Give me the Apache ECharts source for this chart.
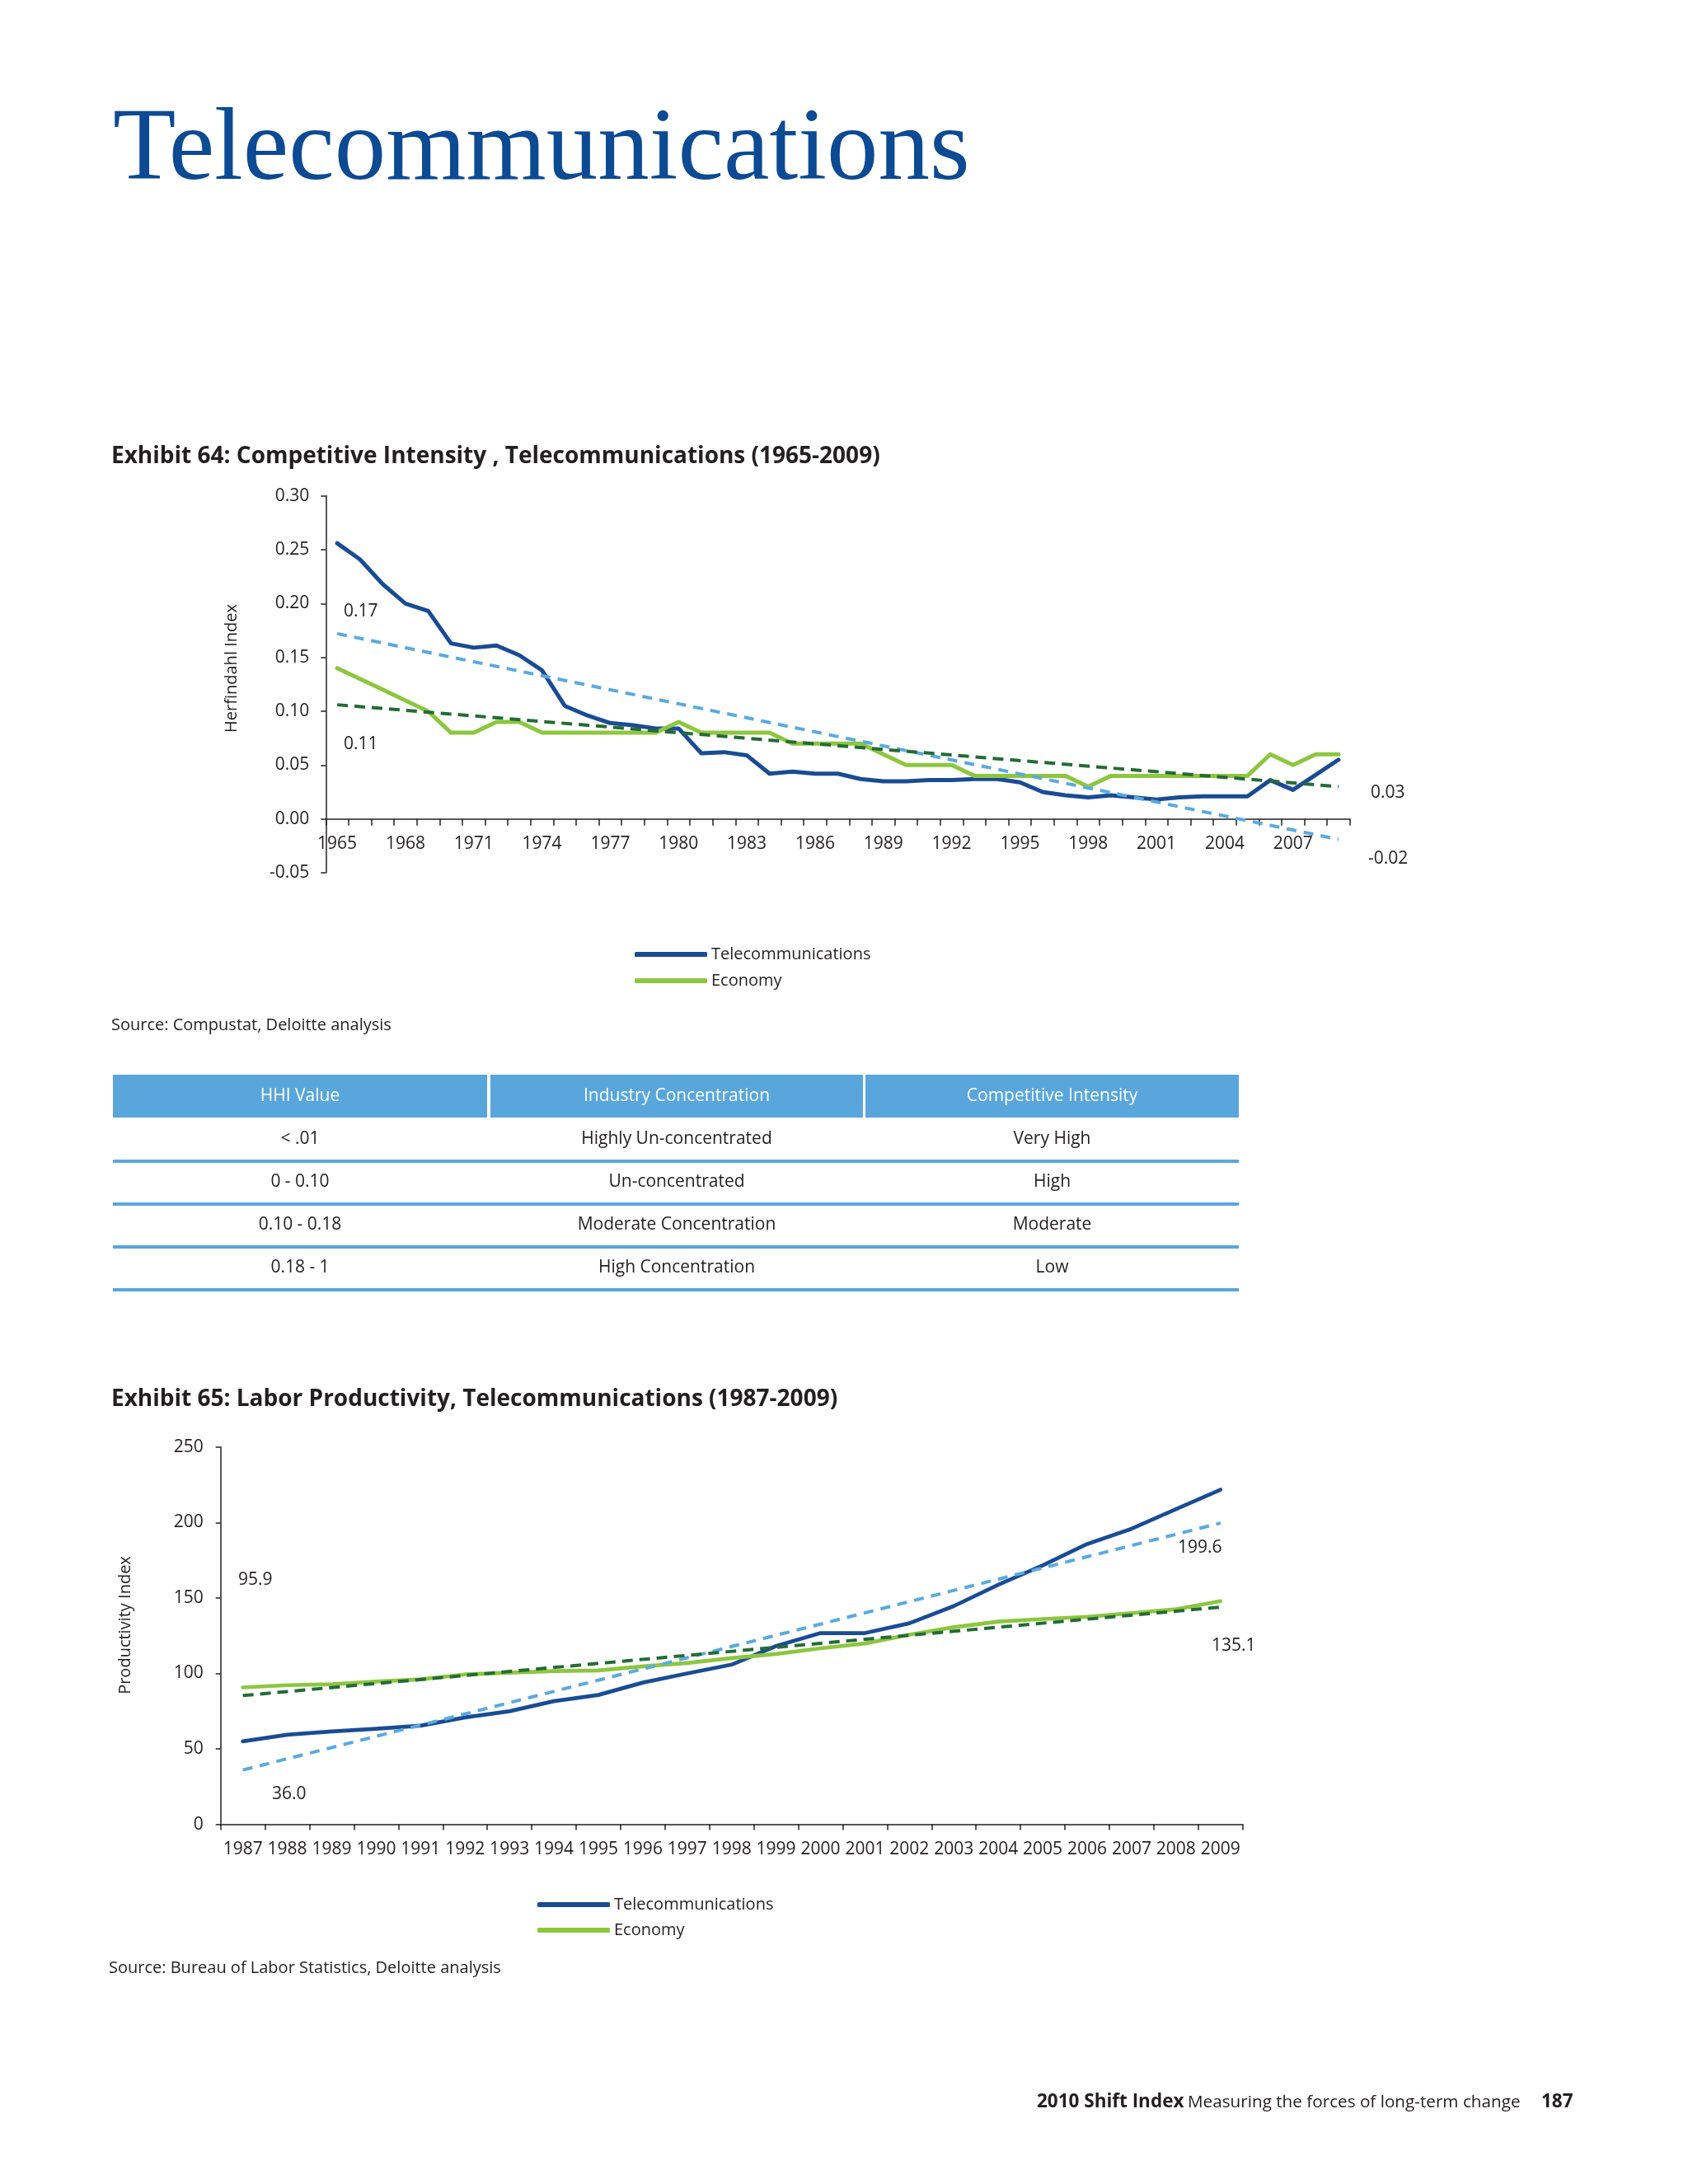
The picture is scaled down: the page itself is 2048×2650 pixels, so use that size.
<!DOCTYPE html>
<html><head><meta charset="utf-8">
<script src="https://cdn.jsdelivr.net/npm/echarts@6/dist/echarts.min.js"></script>
<style>html,body{margin:0;padding:0;background:#fff}#c{width:2048px;height:2650px}</style>
</head><body><div id="c"></div>
<script>
// ---------- DATA ----------
const years64 = ['1965','1966','1967','1968','1969','1970','1971','1972','1973','1974','1975','1976','1977','1978','1979','1980','1981','1982','1983','1984','1985','1986','1987','1988','1989','1990','1991','1992','1993','1994','1995','1996','1997','1998','1999','2000','2001','2002','2003','2004','2005','2006','2007','2008','2009'];
const telecom64 = [0.256,0.241,0.218,0.200,0.193,0.163,0.159,0.161,0.152,0.138,0.105,0.096,0.089,0.087,0.084,0.084,0.061,0.062,0.059,0.042,0.044,0.042,0.042,0.037,0.035,0.035,0.036,0.036,0.037,0.037,0.034,0.025,0.022,0.020,0.022,0.020,0.018,0.020,0.021,0.021,0.021,0.036,0.027,0.041,0.055];
const economy64 = [0.140,0.130,0.120,0.110,0.100,0.080,0.080,0.090,0.090,0.080,0.080,0.080,0.080,0.080,0.080,0.090,0.080,0.080,0.080,0.080,0.070,0.070,0.070,0.070,0.060,0.050,0.050,0.050,0.040,0.040,0.040,0.040,0.040,0.030,0.040,0.040,0.040,0.040,0.040,0.040,0.040,0.060,0.050,0.060,0.060];
const telecomTrend64Ends = [0.172, -0.019];
const economyTrend64Ends = [0.106, 0.030];
const yTicks64 = { min: -0.05, max: 0.30, interval: 0.05 };
const notes64 = ['0.17', '0.11', '0.03', '-0.02'];

const years65 = ['1987','1988','1989','1990','1991','1992','1993','1994','1995','1996','1997','1998','1999','2000','2001','2002','2003','2004','2005','2006','2007','2008','2009'];
const telecom65 = [55.0,59.4,61.5,63.3,65.4,70.8,74.9,81.6,85.7,93.9,100.0,105.8,118.1,126.7,126.7,133.2,144.6,158.7,171.6,185.7,195.8,208.8,221.7];
const economy65 = [90.7,92.2,92.8,94.6,96.1,99.3,100.4,101.5,101.9,104.7,106.9,110.1,112.9,116.6,119.8,125.6,130.6,134.3,136.0,137.5,139.9,142.5,147.9];
const telecomTrend65Ends = [36.0, 199.6];
const economyTrend65Ends = [85.3, 143.9];
const yTicks65 = { min: 0, max: 250, interval: 50 };
const notes65 = ['95.9', '36.0', '199.6', '135.1'];

const seriesNames = ['Telecommunications', 'Economy'];
const tableHeader = ['HHI Value', 'Industry Concentration', 'Competitive Intensity'];
const tableRows = [
  ['< .01', 'Highly Un-concentrated', 'Very High'],
  ['0 - 0.10', 'Un-concentrated', 'High'],
  ['0.10 - 0.18', 'Moderate Concentration', 'Moderate'],
  ['0.18 - 1', 'High Concentration', 'Low']
];

// ---------- STYLE ----------
const FONT = '"Open Sans","Noto Sans","DejaVu Sans",sans-serif';
const SERIF = '"Liberation Serif","DejaVu Serif",serif';
const INK = '#231f20';
const BLUE = '#1a4c94';
const GREEN = '#8dc63f';
const LBLUE = '#5aaade';
const DGREEN = '#246b36';
const TBLUE = '#58a6dc';

function trendArray(n, ends) {
  const a = new Array(n).fill(null);
  a[0] = ends[0]; a[n - 1] = ends[1];
  return a;
}
function txt(x, y, text, size, o) {
  o = o || {};
  return {
    type: 'text', x: x, y: y, silent: true, rotation: o.rotation || 0,
    style: {
      text: text, fontSize: size, fontFamily: o.family || FONT,
      fontWeight: o.weight || 'normal', fill: o.fill || INK,
      align: o.align || 'left', verticalAlign: 'middle',
      textAlign: o.align || 'left', textVerticalAlign: 'middle'
    }
  };
}

const graphics = [];
// Page title
graphics.push(txt(137, 184, 'Telecommunications', 125, { family: SERIF, fill: '#0c4a93' }));
// Exhibit titles
graphics.push(txt(135, 554, 'Exhibit 64: Competitive Intensity , Telecommunications (1965-2009)', 28, { weight: 'bold' }));
graphics.push(txt(135, 1698, 'Exhibit 65: Labor Productivity, Telecommunications (1987-2009)', 28, { weight: 'bold' }));
// Axis names
graphics.push(txt(281, 811, 'Herfindahl Index', 20, { align: 'center', rotation: Math.PI / 2 }));
graphics.push(txt(152, 1972, 'Productivity Index', 20, { align: 'center', rotation: Math.PI / 2 }));
// Annotations chart 1
graphics.push(txt(417, 742, notes64[0], 21));
graphics.push(txt(417, 903, notes64[1], 21));
graphics.push(txt(1663, 962, notes64[2], 21));
graphics.push(txt(1660, 1042, notes64[3], 21));
// Annotations chart 2
graphics.push(txt(289, 1917, notes65[0], 21));
graphics.push(txt(330, 2177, notes65[1], 21));
graphics.push(txt(1429, 1878, notes65[2], 21));
graphics.push(txt(1470, 1997, notes65[3], 21));
// Sources
graphics.push(txt(135, 1244, 'Source: Compustat, Deloitte analysis', 20));
graphics.push(txt(132, 2388, 'Source: Bureau of Labor Statistics, Deloitte analysis', 20));
// Footer
graphics.push(txt(1258, 2551, '2010 Shift Index', 22.5, { weight: 'bold' }));
graphics.push(txt(1441, 2551, 'Measuring the forces of long-term change', 20.7));
graphics.push(txt(1870, 2551, '187', 22.5, { weight: 'bold' }));

// Table
const cols = [[137, 591], [595, 1047], [1050, 1503]];
cols.forEach(function (c, i) {
  graphics.push({ type: 'rect', silent: true, shape: { x: c[0], y: 1304, width: c[1] - c[0], height: 52 }, style: { fill: TBLUE } });
  graphics.push(txt((c[0] + c[1]) / 2, 1330, tableHeader[i], 21, { align: 'center', fill: '#ffffff' }));
});
tableRows.forEach(function (row, r) {
  const cy = 1382 + 52 * r;
  row.forEach(function (cell, i) {
    graphics.push(txt((cols[i][0] + cols[i][1]) / 2, cy, cell, 21, { align: 'center' }));
  });
  graphics.push({ type: 'rect', silent: true, shape: { x: 137, y: cy + 25, width: 1366, height: 4 }, style: { fill: TBLUE } });
});

const axisLineStyle = { color: INK, width: 1.5 };
const labelStyle = { fontFamily: FONT, fontSize: 21, color: INK };
const grid1 = { left: 395.3, top: 601.6, width: 1242.5, height: 457.4 };
// distance from bottom of grid 1 (value -0.05) up to value 0
const zeroOffset64 = grid1.height * (0 - yTicks64.min) / (yTicks64.max - yTicks64.min);

const chart = echarts.init(document.getElementById('c'), null, { renderer: 'canvas' });
chart.setOption({
  backgroundColor: '#ffffff',
  animation: false,
  grid: [
    Object.assign({ outerBoundsMode: 'none', containLabel: false }, grid1),
    { left: 267.7, top: 1755.7, width: 1240, height: 457.9, outerBoundsMode: 'none', containLabel: false }
  ],
  xAxis: [
    {
      type: 'category', gridIndex: 0, data: years64, boundaryGap: true, offset: -zeroOffset64,
      axisLine: { show: true, onZero: false, lineStyle: axisLineStyle },
      axisTick: { show: true, interval: 0, length: 8, lineStyle: axisLineStyle },
      axisLabel: Object.assign({ interval: 2, margin: 20 }, labelStyle),
      splitLine: { show: false }
    },
    {
      type: 'category', gridIndex: 1, data: years65, boundaryGap: true,
      axisLine: { show: true, lineStyle: axisLineStyle },
      axisTick: { show: true, interval: 0, length: 7, lineStyle: axisLineStyle },
      axisLabel: Object.assign({ interval: 0, margin: 20, hideOverlap: false }, labelStyle),
      splitLine: { show: false }
    }
  ],
  yAxis: [
    {
      type: 'value', gridIndex: 0, min: yTicks64.min, max: yTicks64.max, interval: yTicks64.interval,
      axisLine: { show: true, lineStyle: axisLineStyle },
      axisTick: { show: true, length: 6, lineStyle: axisLineStyle },
      axisLabel: Object.assign({ margin: 20, formatter: function (v) { return v.toFixed(2); } }, labelStyle),
      splitLine: { show: false }
    },
    {
      type: 'value', gridIndex: 1, min: yTicks65.min, max: yTicks65.max, interval: yTicks65.interval,
      axisLine: { show: true, lineStyle: axisLineStyle },
      axisTick: { show: true, length: 6, lineStyle: axisLineStyle },
      axisLabel: Object.assign({ margin: 21 }, labelStyle),
      splitLine: { show: false }
    }
  ],
  legend: [
    {
      left: 765, top: 1143, orient: 'vertical', itemWidth: 88, itemHeight: 6, itemGap: 12,
      icon: 'roundRect', selectedMode: false, data: seriesNames,
      textStyle: { fontFamily: FONT, fontSize: 20, lineHeight: 20, color: INK }
    },
    {
      left: 647, top: 2296, orient: 'vertical', itemWidth: 88, itemHeight: 6, itemGap: 11,
      icon: 'roundRect', selectedMode: false, data: seriesNames,
      textStyle: { fontFamily: FONT, fontSize: 20, lineHeight: 20, color: INK }
    }
  ],
  graphic: { elements: graphics },
  series: [
    { name: seriesNames[0], type: 'line', xAxisIndex: 0, yAxisIndex: 0, data: telecom64, symbol: 'none', color: BLUE,
      lineStyle: { width: 5, color: BLUE, cap: 'round', join: 'round' }, z: 2 },
    { name: seriesNames[1], type: 'line', xAxisIndex: 0, yAxisIndex: 0, data: economy64, symbol: 'none', color: GREEN,
      lineStyle: { width: 5, color: GREEN, cap: 'round', join: 'round' }, z: 2 },
    { name: 'telecomTrend64', type: 'line', xAxisIndex: 0, yAxisIndex: 0, data: trendArray(years64.length, telecomTrend64Ends),
      connectNulls: true, symbol: 'none', lineStyle: { width: 4, color: LBLUE, type: [12, 9] }, z: 3 },
    { name: 'economyTrend64', type: 'line', xAxisIndex: 0, yAxisIndex: 0, data: trendArray(years64.length, economyTrend64Ends),
      connectNulls: true, symbol: 'none', lineStyle: { width: 4, color: DGREEN, type: [13, 8] }, z: 3 },

    { name: seriesNames[0], type: 'line', xAxisIndex: 1, yAxisIndex: 1, data: telecom65, symbol: 'none', color: BLUE,
      lineStyle: { width: 4.7, color: BLUE, cap: 'round', join: 'round' }, z: 2 },
    { name: seriesNames[1], type: 'line', xAxisIndex: 1, yAxisIndex: 1, data: economy65, symbol: 'none', color: GREEN,
      lineStyle: { width: 4.7, color: GREEN, cap: 'round', join: 'round' }, z: 2 },
    { name: 'telecomTrend65', type: 'line', xAxisIndex: 1, yAxisIndex: 1, data: trendArray(years65.length, telecomTrend65Ends),
      connectNulls: true, symbol: 'none', lineStyle: { width: 4, color: LBLUE, type: [12, 9] }, z: 3 },
    { name: 'economyTrend65', type: 'line', xAxisIndex: 1, yAxisIndex: 1, data: trendArray(years65.length, economyTrend65Ends),
      connectNulls: true, symbol: 'none', lineStyle: { width: 4, color: DGREEN, type: [13, 8] }, z: 3 }
  ]
});
</script>
</body></html>
